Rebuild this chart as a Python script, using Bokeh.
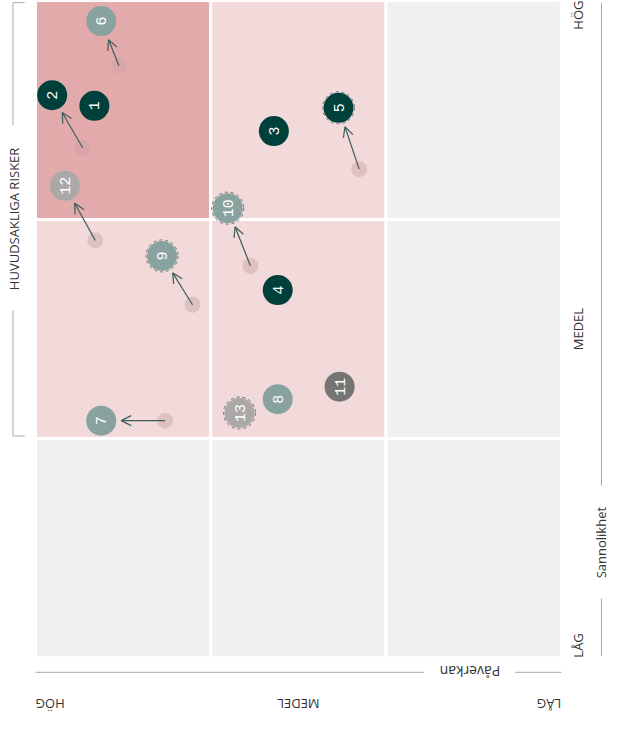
import math
from bokeh.plotting import figure
from bokeh.models import Range1d, ColumnDataSource, Arrow, OpenHead
from bokeh.core.properties import value
from bokeh.embed import file_html
from bokeh.resources import INLINE

# ---- data (grid units: x 0..3 = Påverkan HÖG -> LÅG, y 0..3 = Sannolikhet LÅG -> HÖG)
risk_ids = ["1", "2", "3", "4", "5", "6", "7", "8", "9", "10", "11", "12", "13"]
risk_x = [0.336, 0.095, 1.360, 1.382, 1.729, 0.375, 0.375, 1.382, 0.722, 1.097, 1.735, 0.168, 1.164]
risk_y = [2.519, 2.568, 2.404, 1.678, 2.510, 2.906, 1.082, 1.180, 1.834, 2.052, 1.237, 2.154, 1.117]
risk_group = ["dark", "dark", "dark", "dark", "dark", "mid", "mid", "mid", "mid", "mid", "grey", "light", "light"]
risk_ring = ["5", "9", "10", "13"]

moved_ids = ["6", "2", "12", "5", "10", "9", "7"]
prev_x = [0.476, 0.269, 0.341, 1.847, 1.226, 0.896, 0.739]
prev_y = [2.702, 2.328, 1.905, 2.230, 1.789, 1.611, 1.082]

tick_labels = ["LÅG", "MEDEL", "HÖG"]
cell_colors = [  # rows from top (HÖG sannolikhet) ; columns from left (HÖG påverkan)
    ["#e2aaab", "#f2d9da", "#f1f0ef"],
    ["#f2d9da", "#f2d9da", "#f1f0ef"],
    ["#f1f0ef", "#f1f0ef", "#f1f0ef"],
]
group_colors = {"dark": "#00403b", "mid": "#88a39f", "grey": "#777574", "light": "#aaa9a7"}

W, H = 611, 715
XR = (-0.1997, 3.2864)
YR = (-0.2641, 3.0)
kx = W / (XR[1] - XR[0])
ky = H / (YR[1] - YR[0])

p = figure(width=W, height=H, x_range=Range1d(*XR), y_range=Range1d(*YR),
           x_axis_type=None, y_axis_type=None, output_backend="svg",
           toolbar_location=None, min_border=0)
p.grid.visible = False
p.outline_line_color = None
p.background_fill_color = "white"
p.border_fill_color = "white"

FONT = value("Open Sans")
MONO = value("Liberation Mono")
TXT = "#333333"
LINE = "#a8a8a8"

# ---- cells
L, R, B, T, C = [], [], [], [], []
for r, row in enumerate(cell_colors):
    for c, col in enumerate(row):
        L.append(c); R.append(c + 1); T.append(3 - r); B.append(2 - r); C.append(col)
p.quad(left=L, right=R, bottom=B, top=T, fill_color=C, line_color="white", line_width=3)

# ---- previous positions and arrows
pos = dict(zip(risk_ids, zip(risk_x, risk_y)))
p.scatter(prev_x, prev_y, size=16, fill_color="#c99fa2", fill_alpha=0.42, line_color=None)

xs, ys, xe, ye = [], [], [], []
for mid, px_, py_ in zip(moved_ids, prev_x, prev_y):
    cx, cy = pos[mid]
    dx, dy = (cx - px_) * kx, (cy - py_) * ky
    d = math.hypot(dx, dy)
    gap = 20.0
    xs.append(px_); ys.append(py_)
    xe.append(cx - dx / d * gap / kx); ye.append(cy - dy / d * gap / ky)
asrc = ColumnDataSource(dict(xs=xs, ys=ys, xe=xe, ye=ye))
p.add_layout(Arrow(end=OpenHead(size=10, line_color="#3f5d5a", line_width=1.2),
                   x_start="xs", y_start="ys", x_end="xe", y_end="ye",
                   line_color="#3f5d5a", line_width=1.2, source=asrc))

# ---- bubbles
src = ColumnDataSource(dict(x=risk_x, y=risk_y, id=risk_ids,
                            color=[group_colors[g] for g in risk_group]))
p.scatter("x", "y", source=src, size=30, fill_color="color", line_color=None)
rx = [pos[i][0] for i in risk_ring]
ry = [pos[i][1] for i in risk_ring]
p.scatter(rx, ry, size=32, fill_color=None, line_color="#6f6f6f", line_width=1, line_dash="3 3")
p.text("x", "y", text="id", source=src, angle=math.pi / 2, text_align="center",
       text_baseline="middle", text_color="white", text_font=MONO, text_font_size="15px")

# ---- right axis (Sannolikhet)
p.text([3.098, 3.098, 3.098], [0.0, 1.5, 3.0], text=tick_labels, angle=math.pi / 2,
       text_align=["left", "center", "right"], text_baseline="middle",
       text_color=TXT, text_font=FONT, text_font_size="13px")
p.text([3.229], [0.525], text=["Sannolikhet"], angle=math.pi / 2, text_align="center",
       text_baseline="middle", text_color=TXT, text_font=FONT, text_font_size="13px")
p.segment(x0=[3.229, 3.229], y0=[2.99, 0.270], x1=[3.229, 3.229], y1=[0.785, 0.009],
          line_color=LINE, line_width=1)

# ---- bottom axis (Påverkan)
p.text([0.0, 1.5, 3.0], [-0.2136, -0.2136, -0.2136], text=list(reversed(tick_labels)), angle=math.pi,
       text_align=["right", "center", "left"], text_baseline="middle",
       text_color=TXT, text_font=FONT, text_font_size="13px")
p.text([2.479], [-0.062], text=["Påverkan"], angle=math.pi, text_align="center",
       text_baseline="middle", text_color=TXT, text_font=FONT, text_font_size="14px")
p.segment(x0=[0.0, 2.737], y0=[-0.067, -0.067], x1=[2.216, 3.0], y1=[-0.067, -0.067],
          line_color=LINE, line_width=1)

# ---- bracket: HUVUDSAKLIGA RISKER
p.text([-0.121], [2.003], text=["HUVUDSAKLIGA RISKER"], angle=math.pi / 2, text_align="center",
       text_baseline="middle", text_color=TXT, text_font=FONT, text_font_size="13px")
p.segment(x0=[-0.1287, -0.1287, -0.1287, -0.1287], y0=[2.99, 1.585, 2.99, 1.012],
          x1=[-0.1287, -0.1287, -0.0616, -0.0616], y1=[2.43, 1.012, 2.99, 1.012],
          line_color=LINE, line_width=1)

open("out.html", "w").write(file_html(p, INLINE))
